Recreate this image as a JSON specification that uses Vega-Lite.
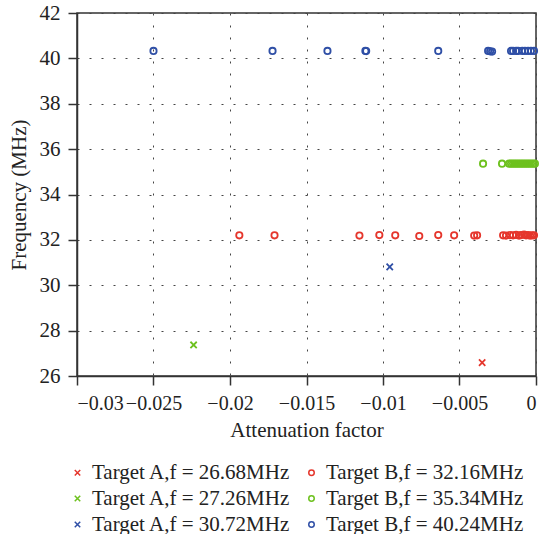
{
  "$schema": "https://vega.github.io/schema/vega-lite/v6.json",
  "width": 459,
  "height": 363,
  "autosize": {"type": "none"},
  "padding": {"left": 77, "top": 13, "right": 21, "bottom": 158},
  "background": "white",
  "config": {
    "font": "Liberation Serif",
    "view": {"stroke": "#333333", "strokeWidth": 1.5},
    "axis": {
      "labelFont": "Liberation Serif",
      "titleFont": "Liberation Serif",
      "labelFontSize": 20,
      "titleFontSize": 20,
      "titleFontWeight": "normal",
      "labelColor": "#222222",
      "titleColor": "#222222",
      "domainColor": "#333333",
      "domainWidth": 1.5,
      "tickColor": "#333333",
      "tickWidth": 1.5,
      "tickSize": 9,
      "gridColor": "#444444",
      "gridDash": [2, 10],
      "gridWidth": 1,
      "gridOpacity": 1
    },
    "legend": {
      "labelFont": "Liberation Serif",
      "labelFontSize": 21,
      "labelColor": "#222222",
      "labelLimit": 400
    }
  },
  "data": {
    "values": [
      {"a": -0.00352, "f": 26.59, "s": "Target A,f = 26.68MHz"},
      {"a": -0.02238, "f": 27.37, "s": "Target A,f = 27.26MHz"},
      {"a": -0.00956, "f": 30.81, "s": "Target A,f = 30.72MHz"},
      {"a": -0.01939, "f": 32.2, "s": "Target B,f = 32.16MHz"},
      {"a": -0.01709, "f": 32.2, "s": "Target B,f = 32.16MHz"},
      {"a": -0.01154, "f": 32.19, "s": "Target B,f = 32.16MHz"},
      {"a": -0.01024, "f": 32.21, "s": "Target B,f = 32.16MHz"},
      {"a": -0.0092, "f": 32.2, "s": "Target B,f = 32.16MHz"},
      {"a": -0.00763, "f": 32.17, "s": "Target B,f = 32.16MHz"},
      {"a": -0.00639, "f": 32.21, "s": "Target B,f = 32.16MHz"},
      {"a": -0.00535, "f": 32.2, "s": "Target B,f = 32.16MHz"},
      {"a": -0.00404, "f": 32.19, "s": "Target B,f = 32.16MHz"},
      {"a": -0.00385, "f": 32.2, "s": "Target B,f = 32.16MHz"},
      {"a": -0.00215, "f": 32.2, "s": "Target B,f = 32.16MHz"},
      {"a": -0.00196, "f": 32.19, "s": "Target B,f = 32.16MHz"},
      {"a": -0.0017, "f": 32.21, "s": "Target B,f = 32.16MHz"},
      {"a": -0.0015, "f": 32.2, "s": "Target B,f = 32.16MHz"},
      {"a": -0.0013, "f": 32.22, "s": "Target B,f = 32.16MHz"},
      {"a": -0.00111, "f": 32.19, "s": "Target B,f = 32.16MHz"},
      {"a": -0.00098, "f": 32.21, "s": "Target B,f = 32.16MHz"},
      {"a": -0.00078, "f": 32.23, "s": "Target B,f = 32.16MHz"},
      {"a": -0.00065, "f": 32.2, "s": "Target B,f = 32.16MHz"},
      {"a": -0.00052, "f": 32.21, "s": "Target B,f = 32.16MHz"},
      {"a": -0.00039, "f": 32.19, "s": "Target B,f = 32.16MHz"},
      {"a": -0.00026, "f": 32.2, "s": "Target B,f = 32.16MHz"},
      {"a": -0.00013, "f": 32.2, "s": "Target B,f = 32.16MHz"},
      {"a": -0.00346, "f": 35.36, "s": "Target B,f = 35.34MHz"},
      {"a": -0.00222, "f": 35.36, "s": "Target B,f = 35.34MHz"},
      {"a": -0.00176, "f": 35.36, "s": "Target B,f = 35.34MHz"},
      {"a": -0.00163, "f": 35.36, "s": "Target B,f = 35.34MHz"},
      {"a": -0.0015, "f": 35.36, "s": "Target B,f = 35.34MHz"},
      {"a": -0.00137, "f": 35.36, "s": "Target B,f = 35.34MHz"},
      {"a": -0.00124, "f": 35.36, "s": "Target B,f = 35.34MHz"},
      {"a": -0.00111, "f": 35.36, "s": "Target B,f = 35.34MHz"},
      {"a": -0.00098, "f": 35.36, "s": "Target B,f = 35.34MHz"},
      {"a": -0.00085, "f": 35.36, "s": "Target B,f = 35.34MHz"},
      {"a": -0.00072, "f": 35.36, "s": "Target B,f = 35.34MHz"},
      {"a": -0.00059, "f": 35.36, "s": "Target B,f = 35.34MHz"},
      {"a": -0.00046, "f": 35.36, "s": "Target B,f = 35.34MHz"},
      {"a": -0.00033, "f": 35.36, "s": "Target B,f = 35.34MHz"},
      {"a": -0.0002, "f": 35.36, "s": "Target B,f = 35.34MHz"},
      {"a": -0.00007, "f": 35.36, "s": "Target B,f = 35.34MHz"},
      {"a": -0.025, "f": 40.33, "s": "Target B,f = 40.24MHz"},
      {"a": -0.01722, "f": 40.33, "s": "Target B,f = 40.24MHz"},
      {"a": -0.01363, "f": 40.33, "s": "Target B,f = 40.24MHz"},
      {"a": -0.01115, "f": 40.33, "s": "Target B,f = 40.24MHz"},
      {"a": -0.0111, "f": 40.32, "s": "Target B,f = 40.24MHz"},
      {"a": -0.00639, "f": 40.33, "s": "Target B,f = 40.24MHz"},
      {"a": -0.00313, "f": 40.33, "s": "Target B,f = 40.24MHz"},
      {"a": -0.003, "f": 40.31, "s": "Target B,f = 40.24MHz"},
      {"a": -0.00287, "f": 40.3, "s": "Target B,f = 40.24MHz"},
      {"a": -0.00163, "f": 40.33, "s": "Target B,f = 40.24MHz"},
      {"a": -0.0015, "f": 40.33, "s": "Target B,f = 40.24MHz"},
      {"a": -0.0013, "f": 40.33, "s": "Target B,f = 40.24MHz"},
      {"a": -0.00117, "f": 40.33, "s": "Target B,f = 40.24MHz"},
      {"a": -0.0009, "f": 40.33, "s": "Target B,f = 40.24MHz"},
      {"a": -0.00072, "f": 40.33, "s": "Target B,f = 40.24MHz"},
      {"a": -0.00052, "f": 40.33, "s": "Target B,f = 40.24MHz"},
      {"a": -0.00033, "f": 40.33, "s": "Target B,f = 40.24MHz"},
      {"a": -0.00013, "f": 40.33, "s": "Target B,f = 40.24MHz"}
    ]
  },
  "mark": {"type": "point", "filled": false, "size": 40, "strokeWidth": 1.8, "opacity": 1},
  "encoding": {
    "x": {
      "field": "a",
      "type": "quantitative",
      "scale": {"domain": [-0.03, 0], "nice": false, "zero": false},
      "axis": {
        "values": [-0.03, -0.025, -0.02, -0.015, -0.01, -0.005, 0],
        "format": "~f",
        "title": "Attenuation factor",
        "labelFont": "Liberation Serif",
        "labelFontSize": 20,
        "titleFontSize": 21,
        "labelOverlap": false,
        "labelPadding": 8,
        "titlePadding": 6
      }
    },
    "y": {
      "field": "f",
      "type": "quantitative",
      "scale": {"domain": [26, 42], "nice": false, "zero": false},
      "axis": {
        "values": [26, 28, 30, 32, 34, 36, 38, 40, 42],
        "format": "d",
        "title": "Frequency (MHz)",
        "labelFont": "Liberation Serif",
        "labelFontSize": 21,
        "titleFontSize": 21,
        "labelOverlap": false,
        "labelPadding": 8,
        "titlePadding": 10
      }
    },
    "color": {
      "field": "s",
      "type": "nominal",
      "scale": {
        "domain": ["Target A,f = 26.68MHz", "Target A,f = 27.26MHz", "Target A,f = 30.72MHz", "Target B,f = 32.16MHz", "Target B,f = 35.34MHz", "Target B,f = 40.24MHz"],
        "range": ["#e5362c", "#6dc11e", "#2f4fa6", "#e5362c", "#6dc11e", "#2f4fa6"]
      },
      "legend": {
        "title": null,
        "orient": "none",
        "legendX": -10,
        "legendY": 449,
        "columns": 2,
        "columnPadding": 10,
        "rowPadding": 4,
        "labelOffset": 4,
        "symbolSize": 30,
        "symbolStrokeWidth": 1.5,
        "padding": 0
      }
    },
    "shape": {
      "field": "s",
      "type": "nominal",
      "scale": {
        "domain": ["Target A,f = 26.68MHz", "Target A,f = 27.26MHz", "Target A,f = 30.72MHz", "Target B,f = 32.16MHz", "Target B,f = 35.34MHz", "Target B,f = 40.24MHz"],
        "range": ["M-1,-1L1,1M-1,1L1,-1", "M-1,-1L1,1M-1,1L1,-1", "M-1,-1L1,1M-1,1L1,-1", "circle", "circle", "circle"]
      }
    }
  }
}
